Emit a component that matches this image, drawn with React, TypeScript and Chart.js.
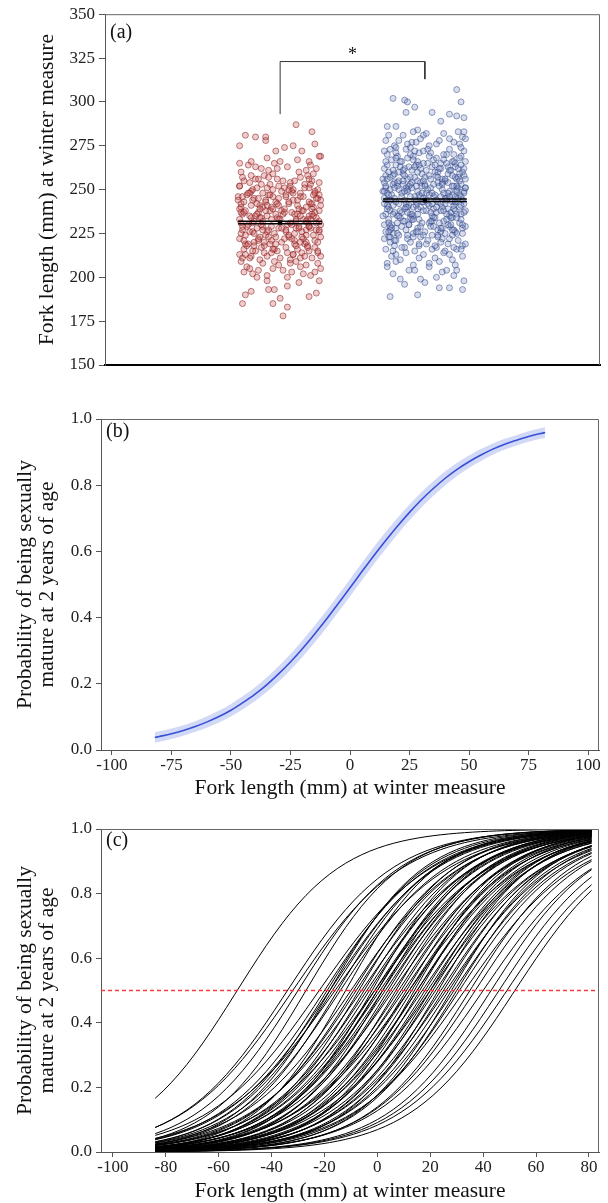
import React, { useEffect, useRef } from "react";
import { Chart, registerables } from "chart.js";
Chart.register(...registerables);

const FONT = "'Liberation Serif', 'Times New Roman', serif";

// ---------- Panel (a): fork length by group ----------
const groupPos = [1, 2];
const aTicks = [150, 175, 200, 225, 250, 275, 300, 325, 350];
// [jitter, fork length]
const redFish: number[][] = [
  [0.11,287],[0.22,283],[-0.24,281],[-0.17,280],[-0.10,280],[-0.10,278],[0.24,276],[-0.28,275],[0.03,274],[0.09,275],[-0.03,272],[0.15,272],[0.28,269],[-0.09,268],[-0.28,265],[0.27,269],[0.2,266],[-0.2,266],
  [0.02,178],[-0.05,185],[-0.26,185],[0.05,183],[0.0,188],[0.2,189],[-0.24,190],[0.25,191],[-0.2,192],[-0.08,193],[-0.04,193],[0.05,195],[0.13,197],[0.27,198],[-0.09,198],
  [-0.22,264],[0.05,263],[-0.13,262],[0.18,261],[-0.04,265],[0.25,262],[-0.27,260],[0.12,267],[-0.08,261],[0.21,264],[-0.17,263],[0.0,266],
  [-0.25,255],[0.07,252],[-0.11,258],[0.2,251],[-0.02,256],[0.27,254],[-0.19,250],[0.14,257],[-0.07,253],[0.23,259],[-0.28,252],[0.03,251],[-0.15,256],[0.17,253],[-0.05,259],[0.26,250],[-0.21,254],[0.1,255],[-0.09,251],[0.19,258],[-0.26,257],[0.06,250],[-0.13,253],[0.22,255],[-0.01,252],
  [-0.23,247],[0.09,244],[-0.14,241],[0.24,248],[-0.03,243],[0.16,246],[-0.27,240],[0.01,249],[-0.18,245],[0.21,242],[-0.08,247],[0.28,244],[-0.2,249],[0.12,241],[-0.05,246],[0.18,240],[-0.25,243],[0.04,247],[-0.12,248],[0.26,245],[-0.16,242],[0.08,249],[-0.01,241],[0.2,243],[-0.29,246],[0.14,248],[-0.1,244],[0.23,240],[-0.21,248],[0.06,242],[-0.06,240],[0.27,247],
  [-0.26,236],[0.11,233],[-0.07,238],[0.19,231],[-0.17,235],[0.03,239],[0.25,234],[-0.22,230],[0.08,237],[-0.12,232],[0.22,236],[-0.02,234],[0.15,238],[-0.28,233],[0.05,230],[-0.15,237],[0.27,232],[-0.09,235],[0.13,239],[-0.24,238],[0.0,233],[0.2,235],[-0.19,231],[0.1,236],[-0.05,239],[0.28,230],[-0.13,234],[0.16,233],[-0.27,237],[0.07,231],[-0.1,238],[0.24,237],[-0.2,234],[0.02,236],[0.18,232],
  [-0.21,226],[0.06,223],[-0.16,228],[0.24,221],[-0.04,225],[0.13,229],[-0.28,222],[0.18,227],[-0.1,224],[0.27,226],[-0.23,229],[0.01,220],[-0.14,223],[0.21,228],[-0.06,221],[0.1,225],[-0.26,227],[0.16,222],[-0.01,228],[0.23,224],[-0.18,220],[0.04,226],[-0.12,229],[0.28,223],[-0.08,227],[0.14,220],[-0.24,224],[0.08,222],[-0.19,226],[0.2,229],[-0.03,223],[0.25,227],[-0.15,221],[0.11,228],[-0.27,225],
  [-0.25,216],[0.09,213],[-0.11,218],[0.22,211],[-0.02,215],[0.17,219],[-0.2,212],[0.04,217],[-0.14,210],[0.26,214],[-0.07,219],[0.12,216],[-0.28,213],[0.19,218],[-0.17,215],[0.0,211],[0.24,217],[-0.09,212],[0.15,214],[-0.22,219],[0.07,210],[-0.04,216],[0.28,212],[-0.13,217],[0.1,219],[-0.26,211],[0.2,215],[-0.06,214],[0.14,211],[-0.18,218],
  [-0.23,206],[0.08,203],[-0.12,208],[0.21,201],[-0.05,205],[0.26,208],[-0.19,202],[0.14,206],[-0.27,209],[0.02,204],[-0.09,201],[0.18,207],[-0.15,204],[0.24,203],[-0.01,207],[0.11,209],[-0.21,205],[0.05,200],[-0.16,200],[0.28,205],[-0.25,203],[0.16,202],
  [-0.2,241],[0.12,236],[-0.06,229],[0.25,245],[-0.16,251],[0.03,222],[0.19,217],[-0.27,231],[0.09,248],[-0.11,214],[0.22,239],[-0.02,262],[0.15,226],[-0.24,219],[0.06,243],[-0.14,234],[0.27,227],[-0.08,257],[0.17,212],[-0.29,244],
  [0.01,238],[-0.18,225],[0.21,253],[-0.05,216],[0.11,232],[-0.22,248],[0.26,220],[-0.12,240],[0.07,208],[-0.26,229],[0.14,246],[-0.03,219],[0.23,235],[-0.17,256],[0.04,227],[-0.1,243],[0.18,224],[-0.21,211],[0.09,250],[-0.01,233],
  [0.28,241],[-0.15,222],[0.13,260],[-0.25,237],[0.05,214],[-0.07,247],[0.2,229],[-0.19,244],[0.1,221],[-0.28,252],[0.16,238],[-0.04,209],[0.24,249],[-0.13,230],[0.02,255],[-0.23,218],[0.19,233],[-0.09,226],[0.12,244],[-0.16,236],
  [0.26,215],[-0.02,242],[0.08,230],[-0.2,258],[0.15,223],[-0.26,246],[0.03,237],[-0.11,220],[0.22,242],[-0.06,233],[0.17,251],[-0.24,213],[0.06,224],[-0.14,239],[0.25,231],[-0.01,245],[0.11,218],[-0.18,232],[0.2,256],[-0.08,223],
  [0.14,235],[-0.27,242],[0.04,246],[-0.12,227],[0.27,238],[-0.21,235],[0.09,213],[-0.05,250],[0.18,220],[-0.15,245],[0.01,228],[-0.25,221],[0.23,247],[-0.09,241],[0.13,228],[-0.19,215],[0.07,254],[-0.03,236],[0.21,233],[-0.28,239],
];
const blueFish: number[][] = [
  [0.22,307],[-0.22,302],[-0.14,301],[-0.12,300],[0.25,300],[-0.07,297],[-0.13,294],[0.05,294],[0.17,293],[0.22,292],[0.27,291],[0.11,289],[-0.26,286],[-0.2,286],[-0.05,284],[-0.08,283],[0.01,282],[0.27,283],[0.23,283],
  [-0.24,189],[-0.05,190],[0.1,194],[0.17,194],[0.26,193],[0.27,198],[0.0,197],[-0.17,199],[-0.11,204],[-0.07,204],[0.03,206],[0.15,204],[0.22,204],[-0.26,208],[-0.2,209],
  [-0.27,278],[0.08,276],[-0.15,281],[0.2,277],[-0.03,279],[0.26,280],[-0.21,275],[0.13,282],[-0.09,277],[0.17,279],[-0.25,281],[0.03,275],[-0.18,278],[0.24,276],[-0.01,281],[0.1,278],[-0.12,276],[0.28,279],
  [-0.26,270],[0.06,267],[-0.13,273],[0.19,266],[-0.04,271],[0.24,268],[-0.2,274],[0.11,265],[-0.08,269],[0.27,272],[-0.23,267],[0.02,273],[-0.16,266],[0.15,270],[-0.1,274],[0.21,265],[-0.28,272],[0.08,268],[-0.05,266],[0.17,273],[-0.19,269],[0.04,271],[-0.12,268],[0.25,274],[-0.01,265],[0.13,267],[-0.24,273],[0.2,270],[-0.07,272],[0.28,266],
  [-0.25,260],[0.09,257],[-0.14,262],[0.22,256],[-0.02,259],[0.16,263],[-0.27,258],[0.01,261],[-0.18,255],[0.26,260],[-0.06,264],[0.12,256],[-0.22,261],[0.19,258],[-0.1,257],[0.05,263],[-0.29,256],[0.23,262],[-0.15,259],[0.14,255],[-0.03,262],[0.27,258],[-0.2,264],[0.07,260],[-0.12,256],[0.18,261],[-0.07,263],[0.21,257],[-0.24,257],[0.03,258],[-0.17,263],[0.25,264],[-0.05,255],[0.11,262],[-0.26,264],[0.16,259],[-0.09,261],[0.28,256],[-0.21,259],[0.0,257],
  [-0.24,250],[0.07,247],[-0.11,252],[0.21,246],[-0.03,254],[0.17,249],[-0.28,245],[0.04,251],[-0.16,248],[0.25,253],[-0.07,246],[0.12,250],[-0.21,254],[0.19,247],[-0.13,251],[0.0,253],[-0.26,248],[0.23,251],[-0.05,249],[0.15,245],[-0.19,252],[0.09,254],[-0.1,246],[0.27,249],[-0.23,247],[0.02,250],[-0.15,253],[0.2,252],[-0.01,245],[0.13,248],[-0.27,251],[0.06,246],[-0.09,254],[0.24,247],[-0.18,250],[0.1,252],[-0.04,247],[0.28,251],[-0.22,253],[0.16,254],[-0.12,249],[0.05,248],[-0.29,249],[0.22,250],[-0.06,252],
  [-0.25,240],[0.08,237],[-0.13,242],[0.22,236],[-0.02,243],[0.16,239],[-0.27,236],[0.03,241],[-0.17,238],[0.26,244],[-0.08,235],[0.12,240],[-0.2,243],[0.18,237],[-0.11,241],[0.01,244],[-0.24,238],[0.24,240],[-0.05,236],[0.14,242],[-0.19,235],[0.09,243],[-0.14,239],[0.28,238],[-0.22,241],[0.05,235],[-0.07,244],[0.2,241],[-0.28,242],[0.11,238],[-0.03,240],[0.25,236],[-0.16,237],[0.15,244],[-0.1,236],[0.06,239],[-0.26,244],[0.21,243],[-0.01,238],[0.17,235],[-0.21,237],[0.02,242],[-0.12,240],[0.27,242],[-0.06,241],
  [-0.23,230],[0.09,227],[-0.14,232],[0.21,226],[-0.04,233],[0.17,229],[-0.27,226],[0.03,231],[-0.17,234],[0.26,228],[-0.08,225],[0.13,232],[-0.2,228],[0.19,234],[-0.11,230],[0.0,226],[-0.25,233],[0.24,231],[-0.05,228],[0.14,225],[-0.19,231],[0.07,234],[-0.13,227],[0.28,229],[-0.22,225],[0.04,229],[-0.09,233],[0.2,227],[-0.28,230],[0.11,226],[-0.02,231],[0.25,233],[-0.16,229],[0.16,230],[-0.1,234],[0.05,232],[-0.24,227],[0.22,225],[-0.06,226],[0.12,228],
  [-0.24,220],[0.08,217],[-0.12,222],[0.22,216],[-0.03,223],[0.16,219],[-0.27,216],[0.02,221],[-0.18,224],[0.26,218],[-0.07,215],[0.12,222],[-0.21,218],[0.19,224],[-0.1,220],[0.05,216],[-0.25,223],[0.23,221],[-0.04,218],[0.14,215],[-0.2,221],[0.09,224],[-0.14,217],[0.28,219],[-0.22,215],[0.01,219],[-0.08,223],[0.2,217],[-0.28,222],[0.11,220],[-0.01,224],[0.25,216],
  [-0.23,212],[0.1,209],[-0.13,214],[0.21,207],[-0.04,211],[0.17,213],[-0.26,206],[0.03,208],[-0.17,210],[0.26,212],[-0.08,207],[0.13,214],[-0.2,213],[0.19,210],[-0.01,213],[0.07,211],
  [-0.22,202],[0.08,200],[-0.14,196],[0.2,201],[-0.03,199],[0.12,203],
  [-0.21,251],[0.11,246],[-0.05,239],[0.24,255],[-0.15,261],[0.04,232],[0.19,227],[-0.26,241],[0.08,258],[-0.12,224],[0.22,249],[-0.01,272],[0.15,236],[-0.24,229],[0.06,253],[-0.14,244],[0.27,237],[-0.08,267],[0.17,222],[-0.28,254],
  [0.01,248],[-0.18,235],[0.21,263],[-0.05,226],[0.11,242],[-0.22,258],[0.26,230],[-0.12,250],[0.07,218],[-0.26,239],[0.14,256],[-0.03,229],[0.23,245],[-0.17,266],[0.04,237],[-0.1,253],[0.18,234],[-0.21,221],[0.09,260],[-0.01,243],
  [0.28,251],[-0.15,232],[0.13,270],[-0.25,247],[0.05,224],[-0.07,257],[0.2,239],[-0.19,254],[0.1,231],[-0.28,262],[0.16,248],[-0.04,219],[0.24,259],[-0.13,240],[0.02,265],[-0.23,228],[0.19,243],[-0.09,236],[0.12,254],[-0.16,246],
  [0.26,225],[-0.02,252],[0.08,240],[-0.2,268],[0.15,233],[-0.26,256],[0.03,247],[-0.11,230],[0.22,252],[-0.06,243],[0.17,261],[-0.24,223],[0.06,234],[-0.14,249],[0.25,241],[-0.01,255],[0.11,228],[-0.18,242],[0.2,266],[-0.08,233],
  [0.14,245],[-0.27,252],[0.04,256],[-0.12,237],[0.27,248],[-0.21,245],[0.09,223],[-0.05,260],[0.18,230],[-0.15,255],[0.01,238],[-0.25,231],[0.23,257],[-0.09,251],[0.13,238],[-0.19,225],[0.07,264],[-0.03,246],[0.21,243],[-0.28,249],
  [-0.2,271],[0.1,262],[-0.06,277],[0.25,269],[-0.16,217],[0.03,269],[0.19,252],[-0.27,266],[0.08,244],[-0.11,263],[0.22,234],[-0.02,248],[0.15,265],[-0.24,244],[0.06,229],[-0.14,258],[0.27,262],[-0.08,240],[0.17,246],[-0.29,235],
  [0.0,252],[-0.18,260],[0.21,238],[-0.04,264],[0.12,253],[-0.22,236],[0.25,246],[-0.1,270],[0.05,242],[-0.25,226],
];
const redMean = 231.2;
const redCI = [230.5, 232.0];
const blueMean = 243.9;
const blueCI = [243.2, 244.6];
const ciSpan = 0.29;
const bracketX = [1, 1, 2, 2];
const bracketY = [293, 323, 323, 313];
const star = [1.5, 329];

// ---------- Panel (b): fitted probability ----------
const bX = [-82,-80,-75,-70,-65,-60,-55,-50,-45,-40,-35,-30,-25,-20,-15,-10,-5,0,5,10,15,20,25,30,35,40,45,50,55,60,65,70,75,80,82];
const bP = [.038,.041,.049,.059,.071,.085,.101,.120,.143,.168,.197,.230,.266,.306,.349,.394,.442,.490,.539,.587,.633,.677,.718,.756,.790,.821,.848,.871,.891,.909,.924,.936,.947,.956,.959];
const bLow = [.022,.025,.033,.043,.055,.068,.083,.101,.123,.147,.175,.207,.242,.281,.323,.368,.416,.464,.513,.561,.607,.652,.694,.733,.768,.800,.828,.852,.873,.892,.908,.920,.931,.940,.943];
const bUp = [.054,.057,.065,.075,.087,.102,.119,.139,.163,.189,.219,.253,.290,.331,.375,.420,.468,.516,.565,.613,.659,.702,.742,.779,.812,.842,.868,.890,.909,.926,.940,.952,.963,.972,.975];
const bTicksX = [-100, -75, -50, -25, 0, 25, 50, 75, 100];
const probTicks = [0, 0.2, 0.4, 0.6, 0.8, 1.0];

// ---------- Panel (c): individual curves ----------
const cX = [-84,-81,-78,-75,-72,-69,-66,-63,-60,-57,-54,-51,-48,-45,-42,-39,-36,-33,-30,-27,-24,-21,-18,-15,-12,-9,-6,-3,0,3,6,9,12,15,18,21,24,27,30,33,36,39,42,45,48,51,54,57,60,63,66,69,72,75,78,81];
const cMid = [-53,-34,-32,-30,-27,-22,-20,-19,-18,-18,-17,-16,-15,-14,-12,-10,-9,-8,-7,-6,-5,-4,-3,-2,-1,-1,0,0,1,2,2,3,4,5,6,7,8,9,10,11,12,12,13,14,15,15,16,17,18,19,20,20,21,22,23,24,25,26,27,28,29,30,31,33,35,37,40,43,46,49,52];
const cSlope = [0.052,0.05,0.048,0.052,0.055,0.047,0.05,0.053,0.049,0.056,0.051,0.046,0.054,0.05,0.058,0.048,0.052,0.05,0.055,0.047,0.053,0.049,0.051,0.057,0.05,0.046,0.054,0.052,0.048,0.05,0.056,0.049,0.053,0.051,0.047,0.055,0.05,0.052,0.048,0.054,0.05,0.046,0.053,0.057,0.049,0.051,0.055,0.048,0.052,0.05,0.054,0.047,0.053,0.049,0.056,0.05,0.052,0.048,0.051,0.055,0.049,0.053,0.05,0.047,0.052,0.05,0.048,0.051,0.05,0.049,0.05];
const cTicksX = [-100, -80, -60, -40, -20, 0, 20, 40, 60, 80];
const threshold = 0.5;

const TICK_COLOR = "#222";
const AXIS_COLOR = "#555";

const panelFrame = {
  id: "panelFrame",
  afterDraw(chart: any, _args: any, opts: any) {
    const { ctx, chartArea } = chart;
    const { left, right, top, bottom } = chartArea;
    ctx.save();
    ctx.strokeStyle = "#666";
    ctx.lineWidth = 1;
    ctx.beginPath();
    ctx.moveTo(left, top + 0.5);
    ctx.lineTo(right - 0.5, top + 0.5);
    ctx.lineTo(right - 0.5, bottom);
    ctx.stroke();
    ctx.fillStyle = "#111";
    ctx.font = `20px ${FONT}`;
    ctx.textBaseline = "middle";
    ctx.textAlign = "left";
    ctx.fillText(opts.label, left + 5, top + opts.dy);
    if (opts.star) {
      const x = chart.scales.x.getPixelForValue(opts.star[0]);
      const y = chart.scales.y.getPixelForValue(opts.star[1]);
      ctx.textAlign = "center";
      ctx.font = `18px ${FONT}`;
      ctx.fillText("*", x, y + 4);
    }
    ctx.restore();
  },
};

const tickFont = { family: FONT, size: 17, lineHeight: 1.2 };
const titleFont = { family: FONT, size: 21.5, lineHeight: "23.6px" };
const probTitle = ["Probability of being sexually", "mature at 2 years of age"];
const xTitle = "Fork length (mm) at winter measure";

function probY(yTitlePad: number) {
  return {
    type: "linear",
    min: 0,
    max: 1,
    afterBuildTicks: (s: any) => { s.ticks = probTicks.map((v) => ({ value: v })); },
    ticks: { font: tickFont, color: TICK_COLOR, padding: 4, callback: (v: any) => Number(v).toFixed(1) },
    grid: { drawOnChartArea: false, tickLength: 5, color: AXIS_COLOR },
    border: { color: AXIS_COLOR, width: 1 },
    title: { display: true, text: probTitle, font: { family: FONT, size: 21.5, lineHeight: "22px" }, color: "#111", padding: { top: yTitlePad, bottom: 0 } },
    afterFit: (s: any) => { s.width = 101; },
  };
}

function fitX(min: number, max: number, ticks: number[], h: number) {
  return {
    type: "linear",
    min,
    max,
    afterBuildTicks: (s: any) => { s.ticks = ticks.map((v) => ({ value: v })); },
    ticks: { font: tickFont, color: TICK_COLOR, padding: 0, maxRotation: 0, autoSkip: false },
    grid: { drawOnChartArea: false, tickLength: 5, color: AXIS_COLOR },
    border: { color: AXIS_COLOR, width: 1 },
    title: { display: true, text: xTitle, font: titleFont, color: "#111", padding: { top: 0, bottom: 0 } },
    afterFit: (s: any) => { s.height = h; },
  };
}

export default function App() {
  const refA = useRef<HTMLCanvasElement>(null);
  const refB = useRef<HTMLCanvasElement>(null);
  const refC = useRef<HTMLCanvasElement>(null);

  useEffect(() => {
    const hline = (x0: number, y: number, order: number) => ({
      type: "scatter",
      data: [{ x: x0 - ciSpan, y }, { x: x0 + ciSpan, y }],
      showLine: true,
      borderColor: "#000",
      borderWidth: 1.5,
      pointRadius: 0,
      order,
    });

    const chartA = new Chart(refA.current as HTMLCanvasElement, {
      type: "scatter",
      data: {
        datasets: [
          {
            data: redFish.map(([j, v]) => ({ x: groupPos[0] + j, y: v })),
            pointRadius: 3,
            borderWidth: 1,
            backgroundColor: "rgba(200,85,85,0.3)",
            borderColor: "rgba(140,30,30,0.55)",
            order: 10,
          },
          {
            data: blueFish.map(([j, v]) => ({ x: groupPos[1] + j, y: v })),
            pointRadius: 3,
            borderWidth: 1,
            backgroundColor: "rgba(115,135,195,0.28)",
            borderColor: "rgba(45,65,130,0.5)",
            order: 9,
          },
          hline(groupPos[0], redCI[0], 2),
          hline(groupPos[0], redCI[1], 2),
          hline(groupPos[1], blueCI[0], 2),
          hline(groupPos[1], blueCI[1], 2),
          {
            data: [{ x: groupPos[0], y: redMean }, { x: groupPos[1], y: blueMean }],
            pointStyle: "rect",
            pointRadius: 3,
            backgroundColor: "#000",
            borderColor: "#000",
            borderWidth: 0,
            order: 1,
          },
          {
            data: bracketX.map((x, i) => ({ x, y: bracketY[i] })),
            showLine: true,
            borderColor: "#333",
            borderWidth: 1,
            pointRadius: 0,
            order: 1,
          },
        ] as any,
      },
      options: {
        animation: false,
        responsive: false,
        layout: { padding: { left: 0, right: 8, top: 14, bottom: 0 } },
        plugins: {
          legend: { display: false },
          tooltip: { enabled: false },
          panelFrame: { label: "(a)", dy: 19, star },
        } as any,
        scales: {
          x: {
            type: "linear",
            min: -0.21,
            max: 3.21,
            ticks: { display: false },
            grid: { display: false },
            border: { display: true, color: "#000", width: 2 },
            afterFit: (s: any) => { s.height = 15; },
          },
          y: {
            type: "linear",
            min: 150,
            max: 350,
            afterBuildTicks: (s: any) => { s.ticks = aTicks.map((v) => ({ value: v })); },
            ticks: { font: tickFont, color: TICK_COLOR, padding: 4 },
            grid: { drawOnChartArea: false, tickLength: 6, color: AXIS_COLOR },
            border: { color: AXIS_COLOR, width: 1 },
            title: { display: true, text: xTitle, font: titleFont, color: "#111", padding: { top: 36, bottom: 0 } },
            afterFit: (s: any) => { s.width = 105; },
          },
        } as any,
      },
      plugins: [panelFrame],
    });

    const chartB = new Chart(refB.current as HTMLCanvasElement, {
      type: "line",
      data: {
        datasets: [
          {
            data: bX.map((x, i) => ({ x, y: bP[i] })),
            borderColor: "rgb(55,80,215)",
            borderWidth: 1.6,
            pointRadius: 0,
            fill: false,
            cubicInterpolationMode: "monotone",
            order: 0,
          },
          {
            data: bX.map((x, i) => ({ x, y: bUp[i] })),
            borderWidth: 0,
            borderColor: "rgba(0,0,0,0)",
            backgroundColor: "rgba(125,145,230,0.35)",
            pointRadius: 0,
            fill: "+1",
            cubicInterpolationMode: "monotone",
            order: 1,
          },
          {
            data: bX.map((x, i) => ({ x, y: bLow[i] })),
            borderWidth: 0,
            borderColor: "rgba(0,0,0,0)",
            pointRadius: 0,
            fill: false,
            cubicInterpolationMode: "monotone",
            order: 2,
          },
        ] as any,
      },
      options: {
        animation: false,
        responsive: false,
        layout: { padding: { left: 0, right: 9, top: 39, bottom: 0 } },
        plugins: {
          legend: { display: false },
          tooltip: { enabled: false },
          panelFrame: { label: "(b)", dy: 13 },
        } as any,
        scales: {
          x: fitX(-104.6, 104.6, bTicksX, 50),
          y: probY(14),
        } as any,
      },
      plugins: [panelFrame],
    });

    const cDatasets: any[] = cMid.map((m, k) => ({
      data: cX.map((x) => ({ x, y: 1 / (1 + Math.exp(-cSlope[k] * (x - m))) })),
      borderColor: "#000",
      borderWidth: 1,
      pointRadius: 0,
      fill: false,
      order: 1,
    }));
    cDatasets.push({
      data: [{ x: -104.5, y: threshold }, { x: 83.8, y: threshold }],
      borderColor: "rgb(245,60,60)",
      borderWidth: 1.5,
      borderDash: [4, 3],
      pointRadius: 0,
      fill: false,
      order: 0,
    });

    const chartC = new Chart(refC.current as HTMLCanvasElement, {
      type: "line",
      data: { datasets: cDatasets },
      options: {
        animation: false,
        responsive: false,
        layout: { padding: { left: 0, right: 9, top: 29, bottom: 0 } },
        plugins: {
          legend: { display: false },
          tooltip: { enabled: false },
          panelFrame: { label: "(c)", dy: 12 },
        } as any,
        scales: {
          x: fitX(-104.5, 83.8, cTicksX, 51),
          y: probY(14),
        } as any,
      },
      plugins: [panelFrame],
    });

    return () => {
      chartA.destroy();
      chartB.destroy();
      chartC.destroy();
    };
  }, []);

  const wrap: React.CSSProperties = { position: "absolute", left: 0, top: 0, width: 608, height: 1203, background: "#fff" };
  const cv = (top: number): React.CSSProperties => ({ position: "absolute", left: 0, top, display: "block" });

  return (
    <div style={wrap}>
      <canvas ref={refA} width={608} height={380} style={cv(0)} />
      <canvas ref={refB} width={608} height={420} style={cv(380)} />
      <canvas ref={refC} width={608} height={403} style={cv(800)} />
    </div>
  );
}
